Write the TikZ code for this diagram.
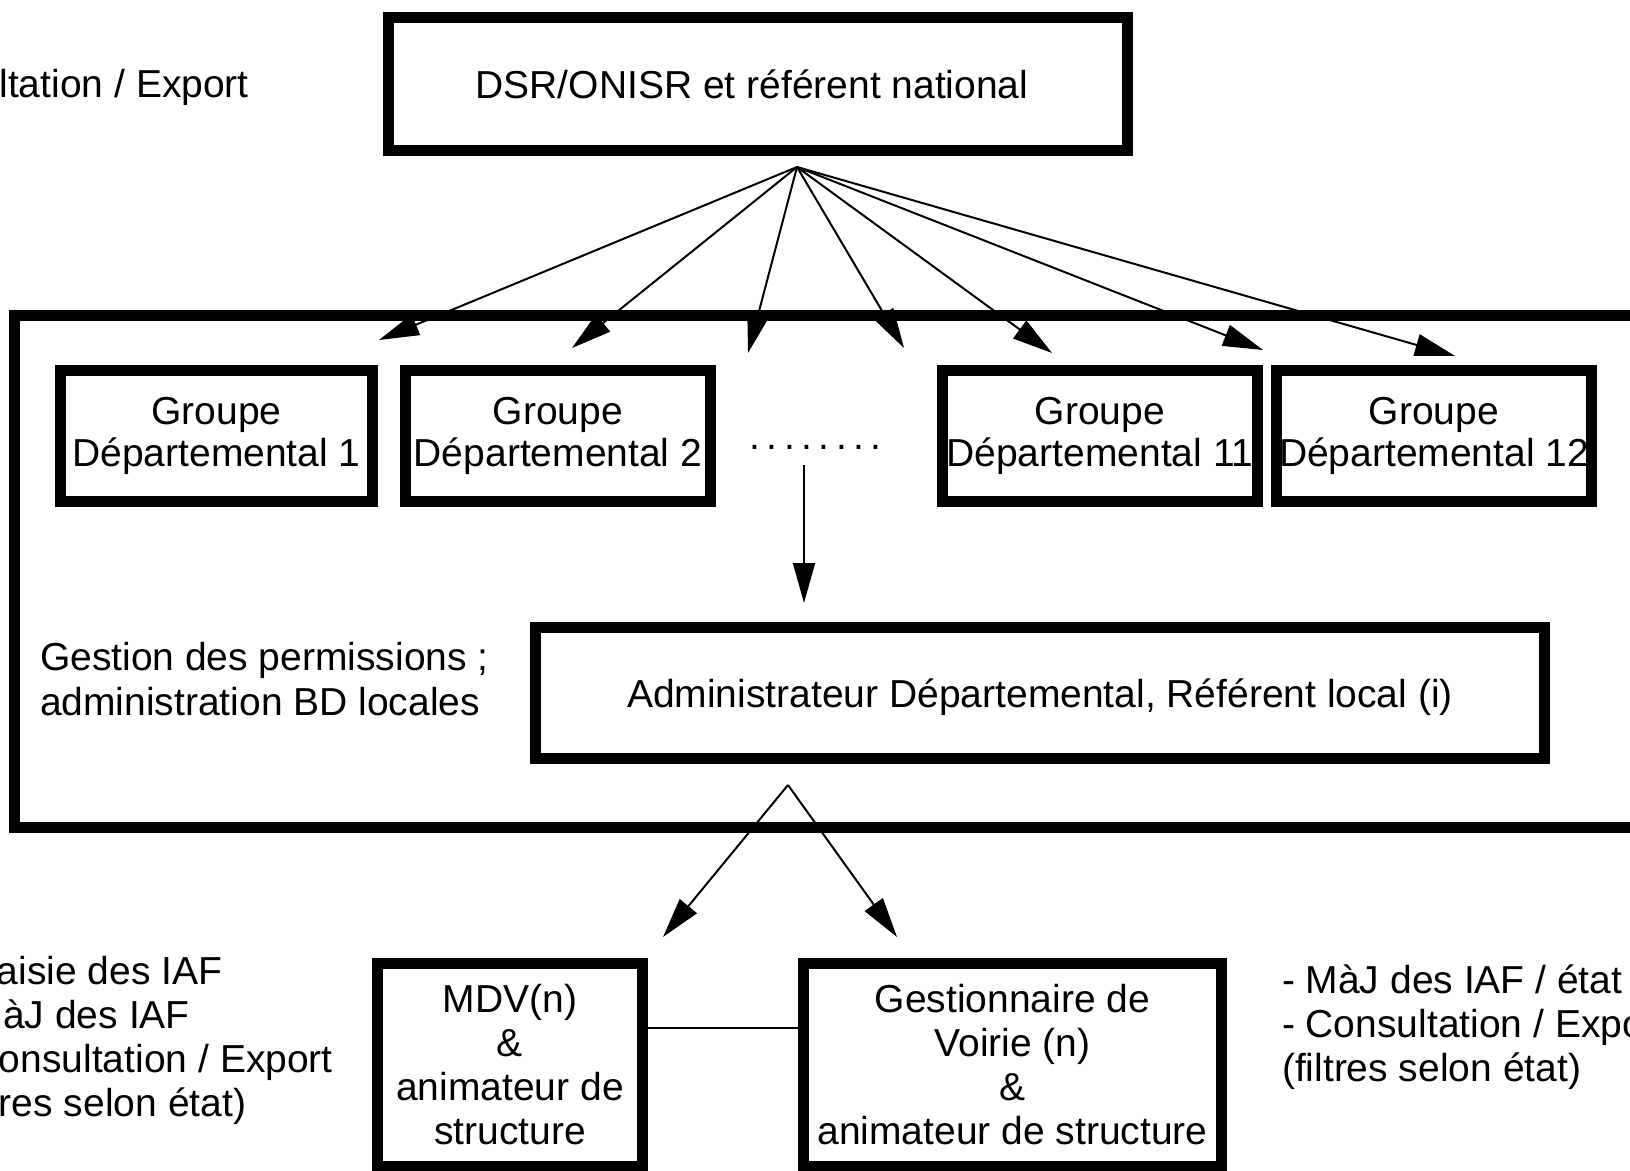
\documentclass[tikz,border=0pt]{standalone}
\usepackage{fontspec}
\usepackage{graphicx}
\setmainfont{Liberation Sans}
\usetikzlibrary{arrows.meta}
\begin{document}
\begin{tikzpicture}[x=1pt,y=-1pt,
  every node/.style={font=\fontsize{39}{44}\selectfont, inner sep=0pt, outer sep=0pt},
  box/.style={draw, line width=11pt, rectangle, align=center},
  grp/.style={box, font=\fontsize{39}{42}\selectfont, minimum height=131pt},
  arr/.style={line width=2pt, -{Triangle[length=40pt,width=22pt]}},
  thinline/.style={line width=2pt},
  lbl/.style={anchor=base west},
]
\useasboundingbox (0,0) rectangle (1630,1170);
\clip (0,0) rectangle (1630,1170);

% top box
\node[box, minimum width=739pt, minimum height=133pt] (dsr) at (758,84) {\hspace*{-12pt}DSR/ONISR et référent national};
\node[lbl] (tl) at (-137,97) {- Consultation / Export};

% arrows from top
\coordinate (apex) at (797,167);
\coordinate (t1) at (379,340);
\coordinate (t2) at (572,348);
\coordinate (t3) at (748,353);
\coordinate (t4) at (904,348);
\coordinate (t5) at (1052,353);
\coordinate (t6) at (1263,350);
\coordinate (t7) at (1455,356);
\foreach \t in {t1,t2,t3,t4,t5,t6,t7} \draw[arr] (apex) -- (\t);

% outer container
\node[draw, line width=11pt, minimum width=1630pt, minimum height=512pt] (outer) at (829.5,571.5) {};

% group boxes
\node[grp, minimum width=312pt] (g1) at (216.5,436) {Groupe\\Départemental 1};
\node[grp, minimum width=305pt] (g2) at (558,436) {Groupe\\Départemental 2};
\node[grp, minimum width=315pt] (g11) at (1100,436) {Groupe\\Départemental 11};
\node[grp, minimum width=315pt] (g12) at (1434,436) {Groupe\\Départemental 12};
\node[anchor=base] (dots) at (815.5,449) {.\hspace{6.5pt}.\hspace{6.5pt}.\hspace{6.5pt}.\hspace{6.5pt}.\hspace{6.5pt}.\hspace{6.5pt}.\hspace{6.5pt}.};

\coordinate (vtop) at (804,465);
\coordinate (vtip) at (804,603);
\draw[arr] (vtop) -- (vtip);

% admin
\node[box, minimum width=1009pt, minimum height=131pt] (admin) at (1040,693) {\raisebox{-4pt}[\height][\depth]{Administrateur Départemental, Référent local (i)}};
\node[lbl] (gest1) at (40,670) {Gestion des permissions ;};
\node[lbl] (gest2) at (40,715) {administration BD locales};

% bottom arrows
\coordinate (apex2) at (788,785);
\coordinate (b1) at (663,937);
\coordinate (b2) at (897,937);
\draw[arr] (apex2) -- (b1);
\draw[arr] (apex2) -- (b2);

% bottom boxes
\node[box, minimum width=265pt, minimum height=203pt] (mdv) at (510,1065) {MDV(n)\\\&\\animateur de\\structure};
\node[box, minimum width=418pt, minimum height=203pt] (gv) at (1012.5,1065) {Gestionnaire de\\Voirie (n)\\\&\\animateur de structure};
\draw[thinline] ([yshift=37pt]mdv.east) -- ([yshift=37pt]gv.west);

% left texts
\node[lbl] (l1) at (-53,984) {- Saisie des IAF};
\node[lbl] (l2) at (-53,1028) {- MàJ des IAF};
\node[lbl] (l3) at (-53,1072) {- Consultation / Export};
\node[lbl] (l4) at (-53,1116) {(filtres selon état)};

% right texts
\node[lbl] (r1) at (1282,993) {- MàJ des IAF / état};
\node[lbl] (r2) at (1282,1037) {- Consultation / Export};
\node[lbl] (r3) at (1282,1081) {(filtres selon état)};
\end{tikzpicture}
\end{document}
